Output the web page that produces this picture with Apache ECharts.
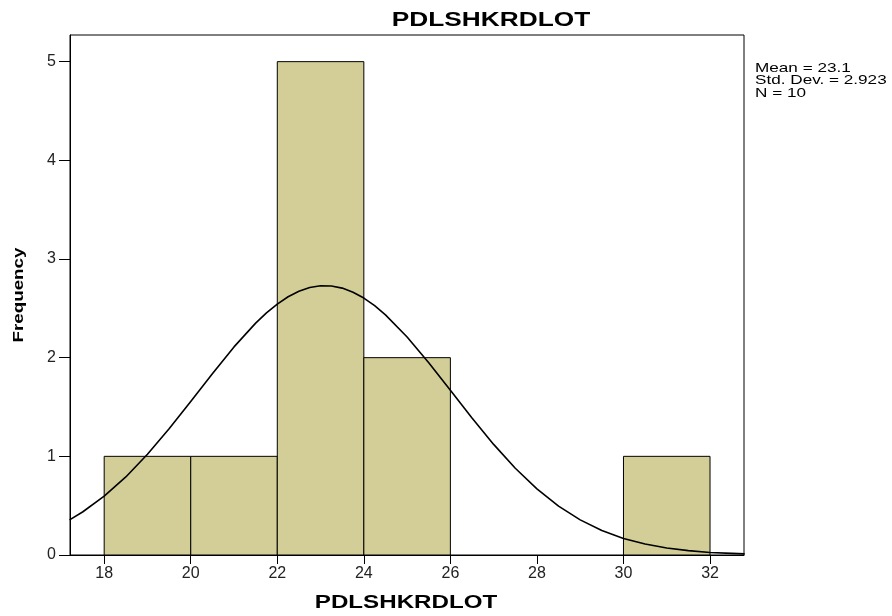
<!DOCTYPE html>
<html><head><meta charset="utf-8">
<script src="https://cdn.jsdelivr.net/npm/echarts@6/dist/echarts.min.js"></script>
<style>html,body{margin:0;padding:0;background:#fff}#c{width:892px;height:616px}</style>
</head><body><div id="c"></div>
<script>
// Histogram bins (start of each bin, width 2)
const binStarts = [18, 20, 22, 24, 26, 28, 30];
const binWidth = 2;
const frequencies = [1, 1, 5, 2, 0, 0, 1];
// Fitted normal curve points
const curveX = [17.2,17.5,18,18.5,19,19.5,20,20.5,21,21.5,21.75,22,22.25,22.5,22.75,23,23.25,23.5,23.75,24,24.25,24.5,25,25.5,26,26.5,27,27.5,28,28.5,29,29.5,30,30.5,31,31.5,32,32.5,32.8];
const curveY = [0.356,0.436,0.596,0.791,1.021,1.279,1.556,1.838,2.109,2.350,2.454,2.543,2.617,2.673,2.711,2.728,2.726,2.705,2.663,2.604,2.527,2.434,2.210,1.949,1.669,1.388,1.121,0.879,0.670,0.495,0.356,0.248,0.168,0.111,0.071,0.044,0.026,0.016,0.011];
const xTicks = [18, 20, 22, 24, 26, 28, 30, 32];
const yTicks = [0, 1, 2, 3, 4, 5];
const titleText = 'PDLSHKRDLOT';
const xName = 'PDLSHKRDLOT';
const yName = 'Frequency';
const statsLines = ['Mean = 23.1', 'Std. Dev. = 2.923', 'N = 10'];

const chart = echarts.init(document.getElementById('c'), null, {renderer: 'canvas'});
const barData = binStarts.map((s, i) => [s, s + binWidth, frequencies[i]]).filter(d => d[2] > 0);
const font = 'Liberation Sans, Arial, sans-serif';
chart.setOption({
  animation: false,
  backgroundColor: '#fff',
  grid: {left: 70, right: 148, top: 35, bottom: 61, show: true, borderColor: '#000', borderWidth: 1, backgroundColor: '#fff'},
  xAxis: {
    type: 'value', min: 17.21, max: 32.785,
    axisLine: {lineStyle: {color: '#000', width: 1}},
    axisTick: {show: true, length: 9, lineStyle: {color: '#000'}, customValues: xTicks},
    axisLabel: {fontFamily: font, fontSize: 16, color: '#222', margin: 11, customValues: xTicks},
    splitLine: {show: false}
  },
  yAxis: {
    type: 'value', min: 0, max: 5.27,
    axisLine: {show: true, lineStyle: {color: '#000', width: 1}},
    axisTick: {show: true, length: 11, lineStyle: {color: '#000'}, customValues: yTicks},
    axisLabel: {fontFamily: font, fontSize: 16, color: '#222', margin: 14, customValues: yTicks},
    splitLine: {show: false}
  },
  series: [
    {
      type: 'custom',
      data: barData,
      renderItem: function (params, api) {
        const p0 = api.coord([api.value(0), 0]);
        const p1 = api.coord([api.value(1), api.value(2)]);
        return {
          type: 'rect',
          shape: {x: p0[0], y: p1[1], width: p1[0] - p0[0], height: p0[1] - p1[1]},
          style: {fill: '#D3CE97', stroke: '#000', lineWidth: 1}
        };
      },
      encode: {x: [0, 1], y: 2},
      z: 2
    },
    {
      type: 'line',
      data: curveX.map((x, i) => [x, curveY[i]]),
      smooth: false,
      showSymbol: false,
      lineStyle: {color: '#000', width: 1.6, join: 'round'},
      z: 3
    }
  ],
  graphic: [
    {
      type: 'text', x: 491, y: 20, scaleX: 1.25,
      style: {text: titleText, fontFamily: font, fontSize: 21, fontWeight: 'bold', fill: '#000', textAlign: 'center', textVerticalAlign: 'middle'}
    },
    {
      type: 'text', x: 406, y: 603, scaleX: 1.27,
      style: {text: xName, fontFamily: font, fontSize: 19, fontWeight: 'bold', fill: '#000', textAlign: 'center', textVerticalAlign: 'middle'}
    },
    {
      type: 'text', x: 19, y: 295, rotation: Math.PI / 2, scaleX: 1.25,
      style: {text: yName, fontFamily: font, fontSize: 15, fontWeight: 'bold', fill: '#000', textAlign: 'center', textVerticalAlign: 'middle'}
    },
    {
      type: 'text', x: 755, y: 62, scaleX: 1.27,
      style: {text: statsLines.join('\n'), fontFamily: font, fontSize: 13.5, lineHeight: 12.5, fill: '#000', textAlign: 'left', textVerticalAlign: 'top'}
    }
  ]
});
</script></body></html>
